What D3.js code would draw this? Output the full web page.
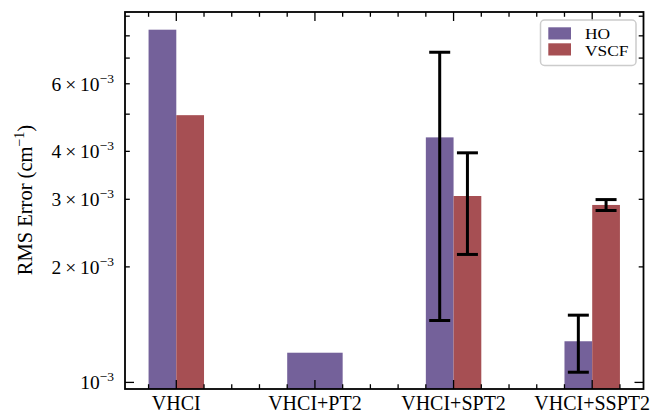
<!DOCTYPE html>
<html>
<head>
<meta charset="utf-8">
<script src="https://cdn.jsdelivr.net/npm/d3@7"></script>
<style>
  html, body { margin: 0; padding: 0; background: #fff; }
  svg { display: block; }
  text { font-family: "Liberation Serif", "Times New Roman", serif; fill: #000; }
</style>
</head>
<body>
<svg id="chart" width="652" height="415"></svg>
<script>
// ---- data ----
const categories = ["VHCI", "VHCI+PT2", "VHCI+SPT2", "VHCI+SSPT2"];
const seriesNames = ["HO", "VSCF"];
const hoValues   = [8.30e-3, 1.195e-3, 4.35e-3, 1.28e-3];
const hoErrors   = [null, null, 2.90e-3, 0.217e-3];
const vscfValues = [4.97e-3, null, 3.06e-3, 2.90e-3];
const vscfErrors = [null, null, 0.905e-3, 0.095e-3];
const seriesColors = ["#74619a", "#a64f53"];
const yTickValues = [1e-3, 2e-3, 3e-3, 4e-3, 5e-3, 6e-3, 7e-3, 8e-3, 9e-3];
const yTickLabels = [["10", "−3"], ["2\u2009×\u200910", "−3"], ["3\u2009×\u200910", "−3"], ["4\u2009×\u200910", "−3"], null, ["6\u2009×\u200910", "−3"], null, null, null];

// ---- layout ----
const svg = d3.select("#chart");
const L = 125, R = 643.5, T = 12, B = 389;
const x = d3.scaleLinear().domain([-0.37, 3.37]).range([L, R]);
const y = d3.scaleLog().domain([0.9612e-3, 9.23e-3]).range([B, T]);
const barW = 0.2;
const FS = 19.5, SUP = 13.5;

const values = [hoValues, vscfValues];
const errors = [hoErrors, vscfErrors];

const plot = svg.append("g");

// bars
categories.forEach((c, i) => {
  const both = values.every(v => v[i] != null);
  values.forEach((vals, s) => {
    const v = vals[i];
    if (v == null) return;
    let x0, x1;
    if (both) {
      x0 = s === 0 ? i - barW : i;
      x1 = x0 + barW;
    } else {
      x0 = i - barW; x1 = i + barW;
    }
    plot.append("rect")
      .attr("x", x(x0)).attr("width", x(x1) - x(x0))
      .attr("y", y(v)).attr("height", B - y(v))
      .attr("fill", seriesColors[s]);
  });
});

// error bars
categories.forEach((c, i) => {
  values.forEach((vals, s) => {
    const v = vals[i], e = errors[s][i];
    if (v == null || e == null) return;
    const xc = x(i + (s === 0 ? -barW / 2 : barW / 2));
    const yt = y(v + e), yb = y(v - e);
    const g = plot.append("g").attr("stroke", "#000").attr("stroke-width", 3);
    g.append("line").attr("x1", xc).attr("x2", xc).attr("y1", yt).attr("y2", yb);
    g.append("line").attr("x1", xc - 10.5).attr("x2", xc + 10.5).attr("y1", yt).attr("y2", yt);
    g.append("line").attr("x1", xc - 10.5).attr("x2", xc + 10.5).attr("y1", yb).attr("y2", yb);
  });
});

// ticks
const ticks = svg.append("g").attr("stroke", "#000").attr("stroke-width", 1.3);
const majorLen = 9, minorLen = 4.8;
const xMinor = d3.range(-1, 17).map(k => +(k * 0.2).toFixed(2)).filter(t => Math.abs(t - Math.round(t)) > 1e-6);
categories.forEach((c, i) => {
  ticks.append("line").attr("x1", x(i)).attr("x2", x(i)).attr("y1", B).attr("y2", B - majorLen);
  ticks.append("line").attr("x1", x(i)).attr("x2", x(i)).attr("y1", T).attr("y2", T + majorLen);
});
xMinor.forEach(t => {
  ticks.append("line").attr("x1", x(t)).attr("x2", x(t)).attr("y1", B).attr("y2", B - minorLen);
  ticks.append("line").attr("x1", x(t)).attr("x2", x(t)).attr("y1", T).attr("y2", T + minorLen);
});
yTickValues.forEach((t, k) => {
  const len = k === 0 ? majorLen : minorLen;
  ticks.append("line").attr("x1", L).attr("x2", L + len).attr("y1", y(t)).attr("y2", y(t));
  ticks.append("line").attr("x1", R).attr("x2", R - len).attr("y1", y(t)).attr("y2", y(t));
});

// frame
svg.append("rect").attr("x", L).attr("y", T).attr("width", R - L).attr("height", B - T)
  .attr("fill", "none").attr("stroke", "#000").attr("stroke-width", 1.8);

// y tick labels
yTickValues.forEach((t, k) => {
  const lab = yTickLabels[k];
  if (!lab) return;
  const tx = svg.append("text").attr("x", 114).attr("y", y(t) + 7)
    .attr("text-anchor", "end").attr("font-size", FS);
  tx.append("tspan").text(lab[0]);
  tx.append("tspan").attr("font-size", SUP).attr("dy", -8).text(lab[1]);
});

// x tick labels
categories.forEach((c, i) => {
  svg.append("text").attr("x", x(i)).attr("y", 410).attr("text-anchor", "middle")
    .attr("font-size", 20).text(c);
});

// y label
const yl = svg.append("text").attr("transform", "translate(32,200) rotate(-90)")
  .attr("text-anchor", "middle").attr("font-size", 20.5);
yl.append("tspan").text("RMS Error (cm");
yl.append("tspan").attr("font-size", 14).attr("dy", -8).text("−1");
yl.append("tspan").attr("dy", 8).text(")");

// legend
const lg = svg.append("g");
lg.append("rect").attr("x", 540.5).attr("y", 20).attr("width", 95.5).attr("height", 45.5)
  .attr("rx", 4).attr("fill", "#fff").attr("fill-opacity", 0.8)
  .attr("stroke", "#cccccc").attr("stroke-width", 1.5);
seriesNames.forEach((n, s) => {
  lg.append("rect").attr("x", 548.3).attr("y", 27.3 + s * 16).attr("width", 22.7).attr("height", 12.2)
    .attr("fill", seriesColors[s]);
  lg.append("text").attr("transform", `translate(585,${38.6 + s * 16.9}) scale(1.2,1.02)`)
    .attr("font-size", 14.5).text(n);
});
</script>
</body>
</html>
